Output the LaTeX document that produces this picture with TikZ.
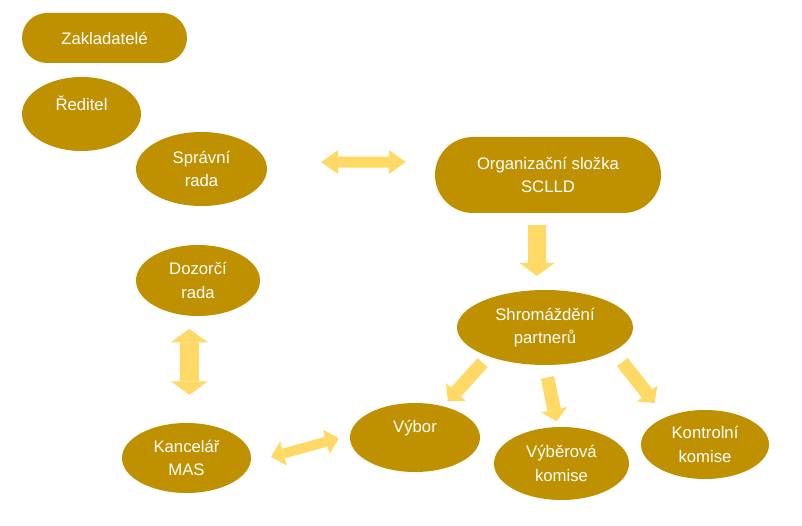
\documentclass[tikz,border=0pt]{standalone}
\usepackage{fontspec}
\setmainfont{Liberation Sans}
\usetikzlibrary{arrows.meta,shapes.geometric}
\definecolor{zlata}{HTML}{BF9000}
\definecolor{zluta}{HTML}{FFD966}
\begin{document}
\begin{tikzpicture}[x=1pt,y=-1pt,
	uzel/.style={fill=zlata,text=white,align=center,inner sep=0pt,font=\fontsize{16.7}{23.5}\selectfont},
	elipsa/.style 2 args={uzel,ellipse,minimum width=#1,minimum height=#2},
	pilulka/.style n args={3}{uzel,rectangle,rounded corners=#3,minimum width=#1,minimum height=#2},
	sipka/.style n args={3}{draw=zluta,line width=#1,>={Triangle[width=#2,length=#3,line width=0pt]}}]
	\useasboundingbox (0,0) rectangle (802,526);
	\node[pilulka={165pt}{50pt}{25pt}] (zaklad) at (104.5,38) {Zakladatelé};
	\node[elipsa={119pt}{74pt}] (reditel) at (81.5,114) {Ředitel\\[-9pt]\strut};
	\node[elipsa={131pt}{74pt}] (sprava) at (201.5,169) {Správní\\rada};
	\node[pilulka={226pt}{76pt}{38pt}] (org) at (548,175) {Organizační složka\\SCLLD};
	\node[elipsa={124pt}{71pt}] (dozor) at (198,280.5) {Dozorčí\\rada};
	\node[elipsa={176pt}{75pt}] (shrom) at (545,327.5) {Shromáždění\\partnerů};
	\node[elipsa={129pt}{70pt}] (kanc) at (186.5,458) {Kancelář\\MAS};
	\node[elipsa={130pt}{69pt}] (vybor) at (415,437.5) {Výbor\\[-9pt]\strut};
	\node[elipsa={135pt}{73pt}] (vyber) at (561.5,463.5) {Výběrová\\komise};
	\node[elipsa={128pt}{69pt}] (kontr) at (705,444.5) {Kontrolní\\komise};
	% sipky
	\draw[sipka={11pt}{24pt}{17pt},<->,shorten <=55pt,shorten >=29pt] (sprava.6) -- ([yshift=13pt]org.west);
	\draw[sipka={18pt}{35pt}{13pt},->,shorten <=12pt,shorten >=14pt] ([xshift=-11pt]org.south) -- (shrom.102);
	\draw[sipka={19pt}{37pt}{13.5pt},<->,shorten <=13pt,shorten >=28pt] (dozor.256) -- (kanc.85);
	\draw[sipka={10pt}{25pt}{13pt},<->,shorten <=21pt,shorten >=11.5pt] (kanc.356) -- (vybor.178);
	\draw[sipka={13.5pt}{27pt}{12pt},->,shorten <=8.5pt,shorten >=7pt] (shrom.207) -- (vybor.48);
	\draw[sipka={13.5pt}{26pt}{12pt},->,shorten <=12.5pt,shorten >=5.5pt] (shrom.south) -- (vyber.96);
	\draw[sipka={13.5pt}{26pt}{12pt},->,shorten <=14pt,shorten >=18pt] (shrom.341) -- (kontr.145);
\end{tikzpicture}
\end{document}
